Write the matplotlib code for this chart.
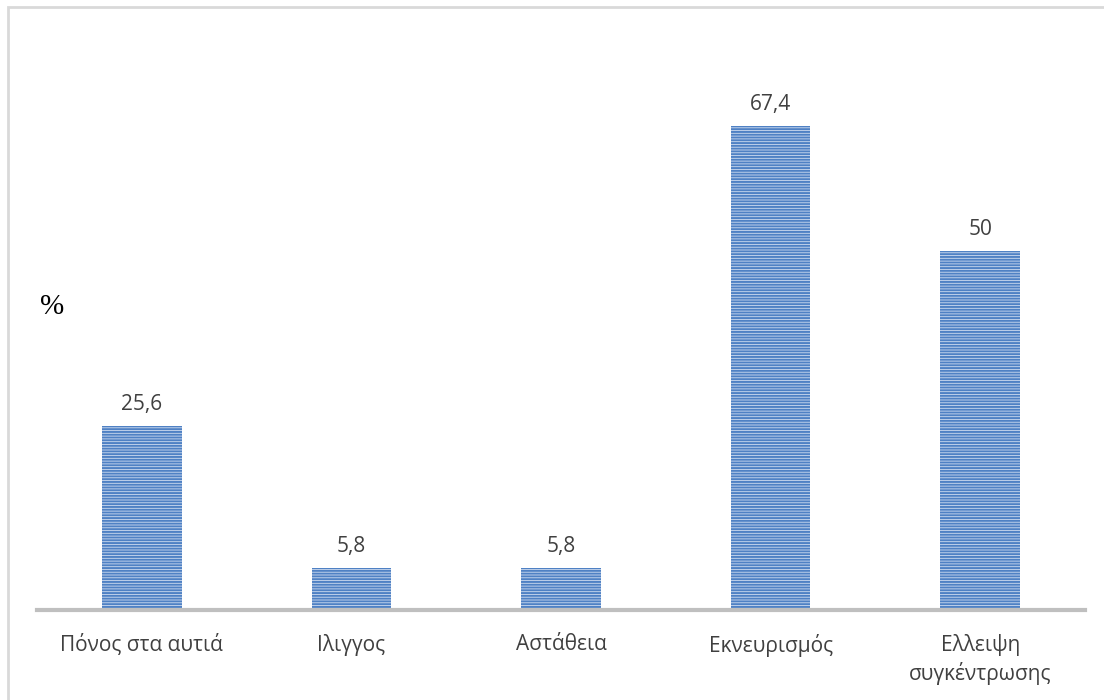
import matplotlib
matplotlib.use("Agg")
import matplotlib.pyplot as plt
from matplotlib.patches import Rectangle

categories = ["Πόνος στα αυτιά", "Ιλιγγος", "Αστάθεια", "Εκνευρισμός", "Ελλειψη\nσυγκέντρωσης"]
values = [25.6, 5.8, 5.8, 67.4, 50]
value_labels = ["25,6", "5,8", "5,8", "67,4", "50"]

W, H = 1104, 700
fig = plt.figure(figsize=(W / 100, H / 100), dpi=100)
plt.rcParams["hatch.linewidth"] = 1.4

# outer chart frame (only top and left edges fall inside the image)
fig.patches.append(Rectangle((8 / W, -0.05), 1.2, (H - 7) / H + 0.05,
                             transform=fig.transFigure, fill=False,
                             edgecolor="#d9d9d9", linewidth=2, zorder=0))

ax_left, ax_right = 37, 1085
ax_bottom, ax_top = 610, 35.6
ax = fig.add_axes([ax_left / W, (H - ax_bottom) / H,
                   (ax_right - ax_left) / W, (ax_bottom - ax_top) / H])
ax.set_xlim(-0.5, len(categories) - 0.5)
ax.set_ylim(0, 80)

x = list(range(len(categories)))
# pale fill underneath, horizontal-line hatch on top
ax.bar(x, values, width=0.38, color="#cfdcf0", linewidth=0, zorder=2)
ax.bar(x, values, width=0.38, facecolor="none", edgecolor="#4f81c4",
       hatch="------", linewidth=0, zorder=2.5)

for xi, v, lab in zip(x, values, value_labels):
    ax.annotate(lab, (xi, v), xytext=(0, 15.5), textcoords="offset points",
                ha="center", va="center", fontsize=15, color="#404040",
                family="Open Sans")

for s in ["top", "right", "left"]:
    ax.spines[s].set_visible(False)
ax.spines["bottom"].set_color("#bfbfbf")
ax.spines["bottom"].set_linewidth(3)
ax.spines["bottom"].set_zorder(3)
ax.set_yticks([])
ax.set_xticks(x)
ax.set_xticklabels(categories, fontsize=15, color="#404040", family="Open Sans",
                   linespacing=1.35)
ax.tick_params(axis="x", length=0, pad=17)

fig.text(40 / W, 1 - 307 / H, "%", fontsize=21, family="Liberation Serif",
         color="black", ha="left", va="center")

fig.savefig("out.png", dpi=100, facecolor="white")
